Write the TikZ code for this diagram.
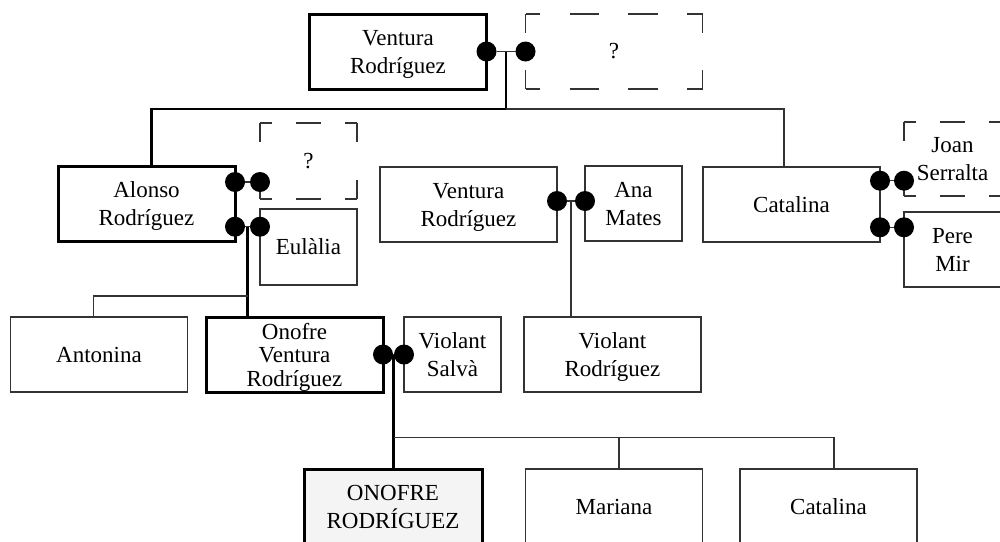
\documentclass[tikz,border=0pt]{standalone}
\usepackage{fontspec}
\setmainfont{Liberation Serif}
\usetikzlibrary{calc}
\definecolor{lineGray}{HTML}{333333}
\definecolor{rootFill}{HTML}{F4F4F4}
\tikzset{
  person/.style={draw=lineGray, line width=0.6pt, minimum width=88.5pt, minimum height=37.5pt,
                 inner sep=0pt, outer sep=0pt, align=center, font=\fontsize{11.5}{14}\selectfont},
  narrow/.style={minimum width=48.5pt},
  multi/.style={text depth=-1.5pt},
  lineage/.style={draw=black, line width=1.5pt},
  ghost/.style={person, draw=none},
  dot/.style={circle, fill=black, inner sep=0pt, outer sep=0pt, minimum size=10pt},
  link/.style={draw=lineGray, line width=0.6pt},
  mainlink/.style={draw=black, line width=1.4pt},
  dashside/.style args={#1/#2}{draw=lineGray, line width=0.6pt, dash pattern=on #1 off #1, dash phase=#2}
}
% dashed frame of an unknown spouse: node, horizontal dash/phase, vertical dash/phase
\newcommand{\dashframe}[3]{%
  \draw[dashside=#2] (#1.north west) -- (#1.north east);
  \draw[dashside=#2] (#1.south west) -- (#1.south east);
  \draw[dashside=#3] (#1.north west) -- (#1.south west);
  \draw[dashside=#3] (#1.north east) -- (#1.south east);
}

\begin{document}
\begin{tikzpicture}[x=0.5pt, y=-0.5pt]
  \useasboundingbox (0,0) rectangle (1000,541);

  % generation 1
  \node[person, lineage, multi] (ventura) at (398,51.5) {Ventura\\Rodríguez};
  \node[ghost] (wifeA) at (614,51.5) {?};
  \dashframe{wifeA}{14.67pt/7.33pt}{18.75pt/9.375pt}

  % generation 2
  \node[person, lineage, multi] (alonso) at (146.5,204) {Alonso\\Rodríguez};
  \node[ghost, narrow, minimum height=38pt] (wifeB) at (308.5,161) {?};
  \dashframe{wifeB}{12.125pt/6.06pt}{19pt/9.5pt}
  \node[person, narrow, minimum height=38pt] (eulalia) at (308.5,247) {Eulàlia};
  \node[person, multi] (ventura2) at (468.5,204.5) {Ventura\\Rodríguez};
  \node[person, narrow, multi] (ana) at (633.5,203.5) {Ana\\Mates};
  \node[person] (catalina) at (791.5,204.5) {Catalina};
  \node[ghost, narrow, multi, minimum height=37pt] (joan) at (952.5,159) {Joan\\Serralta};
  \dashframe{joan}{12.125pt/6.06pt}{18.5pt/9.25pt}
  \node[person, narrow, multi] (pere) at (952.5,249.5) {Pere\\Mir};

  % generation 3
  \node[person] (antonina) at (99,354.5) {Antonina};
  \node[person, lineage, multi, font=\fontsize{11.5}{11.7}\selectfont] (onofre) at (294.5,354.5) {Onofre\\Ventura\\Rodríguez};
  \node[person, narrow, multi] (violantS) at (452.5,354.5) {Violant\\Salvà};
  \node[person, multi] (violantR) at (612.5,354.5) {Violant\\Rodríguez};

  % generation 4
  \node[person, lineage, multi, fill=rootFill, minimum width=89pt] (root) at (393,506.5) {ONOFRE\\RODRÍGUEZ};
  \node[person] (mariana) at (614,506.5) {Mariana};
  \node[person] (catalinaB) at (828.5,506.5) {Catalina};

  % marriages
  \node[dot] (m1a) at (ventura.east) {};
  \node[dot] (m1b) at (wifeA.west) {};
  \node[dot] (m2a) at ($(alonso.east)+(0,-22)$) {};
  \node[dot] (m2b) at (wifeB.west |- m2a) {};
  \node[dot] (m3a) at ($(alonso.east)+(0,22.7)$) {};
  \node[dot] (m3b) at (eulalia.west |- m3a) {};
  \node[dot] (m4a) at ($(ventura2.east)+(0,-3.5)$) {};
  \node[dot] (m4b) at (ana.west |- m4a) {};
  \node[dot] (m5a) at ($(catalina.east)+(0,-23.8)$) {};
  \node[dot] (m5b) at (joan.west |- m5a) {};
  \node[dot] (m6a) at ($(catalina.east)+(0,22.8)$) {};
  \node[dot] (m6b) at (pere.west |- m6a) {};
  \node[dot] (m7a) at (onofre.east) {};
  \node[dot] (m7b) at (violantS.west) {};
  \foreach \pair in {m1,m2,m3,m4,m5,m6,m7}
    \draw[link] (\pair a) -- (\pair b);

  % descent lines
  \coordinate (mid1) at ($(m1a)!0.5!(m1b)$);
  \coordinate (bus1) at ($(mid1)+(0,57.5)$);
  \draw[mainlink] (mid1) -- (bus1) -| ($(alonso.north)+(5.2,0)$);
  \draw[link] (bus1) -| ($(catalina.north)+(-7.5,0)$);

  \coordinate (mid3) at ($(m3a)!0.5!(m3b)$);
  \coordinate (bus3) at ($(mid3 |- onofre.north)+(0,-21)$);
  \draw[mainlink] (mid3) -- (mid3 |- onofre.north);
  \draw[link] (bus3) -| ($(antonina.north)+(-5.7,0)$);

  \coordinate (mid4) at ($(m4a)!0.5!(m4b)$);
  \draw[link] (mid4) -- (mid4 |- violantR.north);

  \coordinate (mid7) at ($(m7a)!0.5!(m7b)$);
  \coordinate (bus7) at ($(mid7 |- root.north)+(0,-31.7)$);
  \draw[mainlink] (mid7) -- (mid7 |- root.north);
  \draw[link] (bus7) -| ($(catalinaB.north)+(5.5,0)$);
  \draw[link] ($(mariana.north)+(5,0)$) -- +(0,-31.7);
\end{tikzpicture}
\end{document}
